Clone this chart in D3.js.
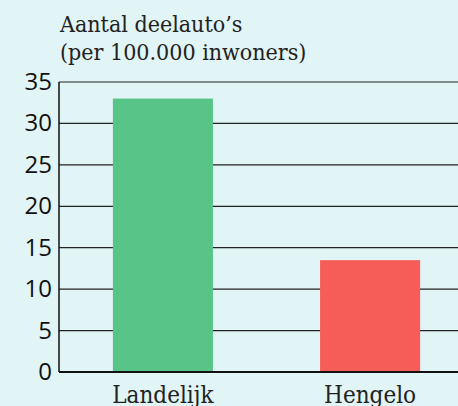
<html>
    <head>
        <script src = "https://d3js.org/d3.v7.min.js"></script>
        <style>
            body { margin: 0; background: #e1f4f6; }
        </style>
    </head>
    <body>
        <svg id = 'chart' width = 458 height = 406></svg>
        <script>
            const categories = ['Landelijk', 'Hengelo'];
            const values = [33.0, 13.5];
            const colors = ['#58c487', '#f65d58'];
            const ticks = [0, 5, 10, 15, 20, 25, 30, 35];
            const titleLines = ['Aantal deelauto\u2019s', '(per 100.000 inwoners)'];

            const svg = d3.select('svg#chart');
            const width = +svg.attr('width');

            svg.append('rect').attr('width', width).attr('height', 406).attr('fill', '#e1f4f6');

            const x0 = 59;
            const y = d3.scaleLinear().domain([0, 35]).range([372, 82]);
            const x = d3.scaleBand().domain(categories)
                        .range([x0, 474])
                        .paddingInner(0.517)
                        .paddingOuter(0.26);

            // title
            svg.selectAll('text.title').data(titleLines)
               .join('text')
               .attr('class', 'title')
               .attr('x', 60)
               .attr('y', (d, i) => 32 + i * 28)
               .attr('font-family', 'DejaVu Serif Condensed, DejaVu Serif')
               .attr('font-size', 23)
               .attr('fill', '#222')
               .text(d => d);

            // grid
            svg.selectAll('line.grid').data(ticks.filter(t => t > 0))
               .join('line')
               .attr('class', 'grid')
               .attr('x1', x0).attr('x2', width)
               .attr('y1', d => y(d)).attr('y2', d => y(d))
               .attr('stroke', '#222')
               .attr('stroke-width', 1.2);

            // bars
            svg.selectAll('rect.bar').data(values)
               .join('rect')
               .attr('class', 'bar')
               .attr('x', (d, i) => x(categories[i]))
               .attr('width', x.bandwidth())
               .attr('y', d => y(d))
               .attr('height', d => y(0) - y(d))
               .attr('fill', (d, i) => colors[i]);

            // axes lines
            svg.append('line')
               .attr('x1', x0).attr('x2', x0)
               .attr('y1', y(35)).attr('y2', y(0))
               .attr('stroke', '#111').attr('stroke-width', 1.5);
            svg.append('line')
               .attr('x1', x0).attr('x2', width)
               .attr('y1', y(0)).attr('y2', y(0))
               .attr('stroke', '#111').attr('stroke-width', 2);

            // y tick labels
            svg.selectAll('text.ytick').data(ticks)
               .join('text')
               .attr('class', 'ytick')
               .attr('x', 52)
               .attr('y', d => y(d) + 8)
               .attr('text-anchor', 'end')
               .attr('font-family', 'Open Sans')
               .attr('font-size', 24)
               .attr('fill', '#111')
               .text(d => d);

            // category labels
            svg.selectAll('text.cat').data(categories)
               .join('text')
               .attr('class', 'cat')
               .attr('x', d => x(d) + x.bandwidth() / 2)
               .attr('y', 403)
               .attr('text-anchor', 'middle')
               .attr('font-family', 'DejaVu Serif Condensed, DejaVu Serif')
               .attr('font-size', 24)
               .attr('fill', '#222')
               .text(d => d);
        </script>
    </body>
</html>
